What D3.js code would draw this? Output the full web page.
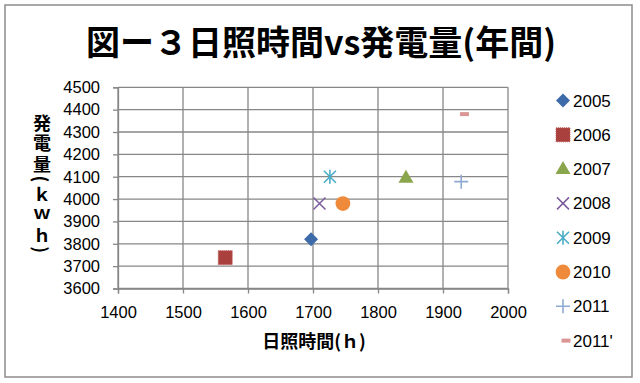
<!DOCTYPE html>
<html>
<head>
<meta charset="utf-8">
<script src="https://cdn.jsdelivr.net/npm/d3@7"></script>
<style>
  body { margin: 0; background: #fff; }
  svg { display: block; }
  text { font-family: "Liberation Sans", Arial, sans-serif; fill: #000; }
  .jp { font-family: "Noto Sans CJK JP", sans-serif; font-weight: bold; }
</style>
</head>
<body>
<svg id="chart"></svg>
<script>
// Data
const years = ['2005', '2006', '2007', '2008', '2009', '2010', '2011', "2011'"];
const hours = [1697, 1565, 1843, 1710, 1726, 1746, 1928, 1933];
const output = [3820, 3738, 4095, 3980, 4100, 3980, 4078, 4380];
const xTicks = [1400, 1500, 1600, 1700, 1800, 1900, 2000];
const yTicks = [3600, 3700, 3800, 3900, 4000, 4100, 4200, 4300, 4400, 4500];

// Marker style for each series
const markers = [
  { type: 'diamond', color: '#3D6BAA' },
  { type: 'square', color: '#A9403E' },
  { type: 'triangle', color: '#8AA64C' },
  { type: 'x', color: '#7A5C9C' },
  { type: 'star', color: '#4AACC6' },
  { type: 'circle', color: '#EE8A3A' },
  { type: 'plus', color: '#8FAAD2' },
  { type: 'dash', color: '#D99694' }
];

const W = 640, H = 383;
const svg = d3.select('#chart').attr('width', W).attr('height', H);

// Outer chart border
svg.append('rect')
  .attr('x', 5).attr('y', 5).attr('width', 627).attr('height', 372)
  .attr('fill', '#fff').attr('stroke', '#8c8c8c').attr('stroke-width', 1.5);

// Title
svg.append('text')
  .attr('class', 'jp')
  .attr('x', 321).attr('y', 55)
  .attr('text-anchor', 'middle')
  .style('font-size', '34px')
  .text('図ー３日照時間vs発電量(年間)');

// Scales
const x = d3.scaleLinear().domain([1400, 2000]).range([118, 508]);
const y = d3.scaleLinear().domain([3600, 4500]).range([288.5, 87.3]);

// Grid lines
const grid = svg.append('g').attr('stroke', '#878787').attr('stroke-width', 1.3);
grid.selectAll('.h').data(yTicks).enter().append('line')
  .attr('x1', x(1400)).attr('x2', x(2000))
  .attr('y1', d => y(d)).attr('y2', d => y(d));
grid.selectAll('.v').data(xTicks).enter().append('line')
  .attr('y1', y(3600)).attr('y2', y(4500))
  .attr('x1', d => x(d)).attr('x2', d => x(d));

// Axes
const xAxis = svg.append('g')
  .attr('transform', `translate(0, ${y(3600)})`)
  .call(d3.axisBottom(x).tickValues(xTicks).tickSize(5).tickPadding(13).tickFormat(d3.format('d')));
const yAxis = svg.append('g')
  .attr('transform', `translate(${x(1400)}, 0)`)
  .call(d3.axisLeft(y).tickValues(yTicks).tickSize(5).tickPadding(13).tickFormat(d3.format('d')));
[xAxis, yAxis].forEach(a => {
  a.select('.domain').attr('stroke', '#878787').attr('stroke-width', 1.3);
  a.selectAll('.tick line').attr('stroke', '#878787').attr('stroke-width', 1.3);
  a.selectAll('.tick text')
    .style('font-family', '"Liberation Sans", Arial, sans-serif')
    .style('font-size', '16.5px').attr('fill', '#000');
});

// Axis titles
svg.append('text')
  .attr('class', 'jp')
  .attr('x', 314).attr('y', 348)
  .attr('text-anchor', 'middle')
  .style('font-size', '18px')
  .text('日照時間(ｈ)');

svg.append('text')
  .attr('class', 'jp')
  .attr('x', 42).attr('y', 114)
  .style('writing-mode', 'vertical-rl')
  .style('text-orientation', 'mixed')
  .style('letter-spacing', '2.5px')
  .style('font-size', '18px')
  .text('発電量(ｋｗｈ)');

// Draw one marker at (cx, cy)
function drawMarker(g, m, cx, cy) {
  const c = m.color;
  switch (m.type) {
    case 'diamond':
      g.append('path').attr('d', `M${cx},${cy - 7}L${cx + 7},${cy}L${cx},${cy + 7}L${cx - 7},${cy}Z`)
        .attr('fill', c);
      break;
    case 'square':
      g.append('rect').attr('x', cx - 7).attr('y', cy - 7).attr('width', 14).attr('height', 14)
        .attr('fill', c).attr('stroke', '#C0605C').attr('stroke-dasharray', '1,1');
      break;
    case 'triangle':
      g.append('path').attr('d', `M${cx},${cy - 8}L${cx + 7.5},${cy + 5}L${cx - 7.5},${cy + 5}Z`)
        .attr('fill', c);
      break;
    case 'x':
      g.append('path').attr('d', `M${cx - 6},${cy - 6}L${cx + 6},${cy + 6}M${cx - 6},${cy + 6}L${cx + 6},${cy - 6}`)
        .attr('stroke', c).attr('stroke-width', 1.5).attr('fill', 'none');
      break;
    case 'star':
      g.append('path').attr('d', `M${cx - 6},${cy - 6}L${cx + 6},${cy + 6}M${cx - 6},${cy + 6}L${cx + 6},${cy - 6}M${cx},${cy - 7}L${cx},${cy + 7}`)
        .attr('stroke', c).attr('stroke-width', 1.6).attr('fill', 'none');
      break;
    case 'circle':
      g.append('circle').attr('cx', cx).attr('cy', cy).attr('r', 7.4).attr('fill', c);
      break;
    case 'plus':
      g.append('path').attr('d', `M${cx - 7},${cy}L${cx + 7},${cy}M${cx},${cy - 7}L${cx},${cy + 7}`)
        .attr('stroke', c).attr('stroke-width', 1.6).attr('fill', 'none');
      break;
    case 'dash':
      g.append('rect').attr('x', cx - 4.5).attr('y', cy - 2).attr('width', 9).attr('height', 4)
        .attr('fill', c);
      break;
  }
}

// Points
const pts = svg.append('g');
years.forEach((yr, i) => drawMarker(pts, markers[i], x(hours[i]), y(output[i])));

// Legend
const legend = svg.append('g');
years.forEach((yr, i) => {
  const cy = 100.5 + i * 34.3;
  drawMarker(legend, markers[i], markers[i].type === 'dash' ? 566 : 563, cy);
  legend.append('text')
    .attr('x', 573).attr('y', cy + 6)
    .style('font-size', '17px')
    .text(yr);
});
</script>
</body>
</html>
